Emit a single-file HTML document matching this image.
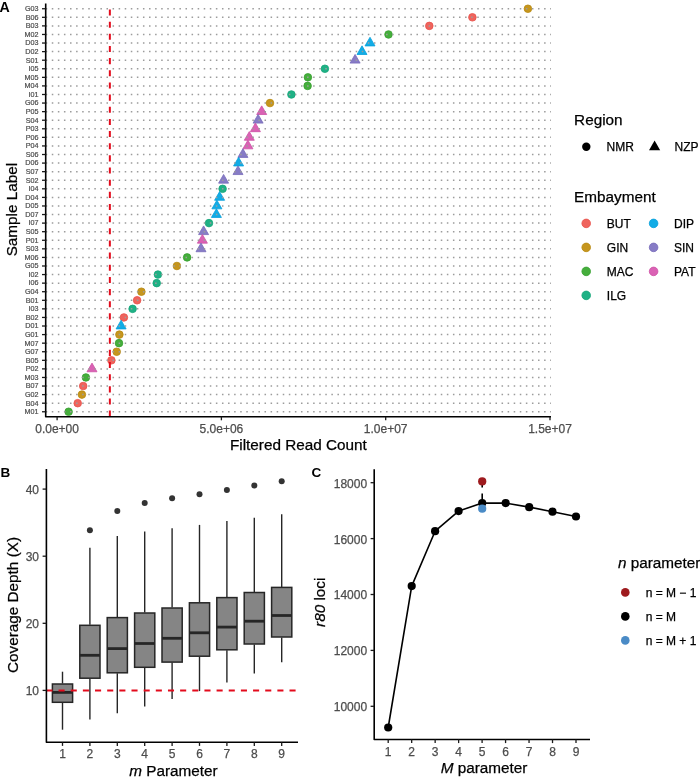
<!DOCTYPE html>
<html><head><meta charset="utf-8"><title>Figure</title>
<style>
html,body{margin:0;padding:0;background:#fff;}
body{width:700px;height:781px;overflow:hidden;}
svg{display:block;will-change:transform;font-family:"Liberation Sans",sans-serif;}
.grid{stroke:#9C9C9C;stroke-width:1.5;stroke-dasharray:1.52 4.558;}
.axis{fill:none;stroke:#000;stroke-width:1.6;stroke-linejoin:round;}
.tick{stroke:#1a1a1a;stroke-width:1.3;}
.ylab{font-size:7.2px;fill:#4D4D4D;stroke:#4D4D4D;stroke-width:0.2px;}
.tl{font-size:12px;fill:#4D4D4D;stroke:#4D4D4D;stroke-width:0.25px;}
.title{font-size:15.3px;fill:#000;stroke:#000;stroke-width:0.25px;}
.leg{font-size:12px;fill:#000;stroke:#000;stroke-width:0.25px;}
.tag{font-size:13.5px;font-weight:bold;fill:#000;}
.rdash{stroke:#E30B1C;stroke-width:2;stroke-dasharray:6.078 6.078;}
.pt{fill-opacity:0.92;}
.bx{stroke:#262626;stroke-width:1.4;}
.box{fill:#858585;stroke:#262626;stroke-width:1.5;}
.med{stroke:#262626;stroke-width:2.8;}
.cl{fill:none;stroke:#000;stroke-width:1.6;stroke-linejoin:round;}
.cdash{stroke:#000;stroke-width:1.6;stroke-dasharray:6.1 6.1;}
</style></head>
<body><svg width="700" height="781" viewBox="0 0 700 781">
<rect width="700" height="781" fill="#fff"/>
<text x="-0.6" y="11.8" class="tag" style="font-size:14.2px">A</text>
<circle cx="527.9" cy="8.74" r="3.8" fill="#C6961E" stroke="#B8880E" stroke-width="0.8"/>
<circle cx="472.4" cy="17.31" r="3.8" fill="#EF645D" stroke="#E8504A" stroke-width="0.8"/>
<circle cx="429.3" cy="25.89" r="3.8" fill="#EF645D" stroke="#E8504A" stroke-width="0.8"/>
<circle cx="388.5" cy="34.46" r="3.8" fill="#45AE3C" stroke="#36A02E" stroke-width="0.8"/>
<polygon points="370,37.26 375.01,45.93 364.99,45.93" fill="#12ACE6" stroke="#069FDA" stroke-width="0.8" stroke-linejoin="round"/>
<polygon points="362,45.83 367.01,54.51 356.99,54.51" fill="#12ACE6" stroke="#069FDA" stroke-width="0.8" stroke-linejoin="round"/>
<polygon points="355.1,54.41 360.11,63.08 350.09,63.08" fill="#877CC6" stroke="#776BBA" stroke-width="0.8" stroke-linejoin="round"/>
<circle cx="324.9" cy="68.76" r="3.8" fill="#1FB185" stroke="#14A478" stroke-width="0.8"/>
<circle cx="307.9" cy="77.34" r="3.8" fill="#45AE3C" stroke="#36A02E" stroke-width="0.8"/>
<circle cx="307.6" cy="85.91" r="3.8" fill="#45AE3C" stroke="#36A02E" stroke-width="0.8"/>
<circle cx="291.4" cy="94.49" r="3.8" fill="#1FB185" stroke="#14A478" stroke-width="0.8"/>
<circle cx="270" cy="103.06" r="3.8" fill="#C6961E" stroke="#B8880E" stroke-width="0.8"/>
<polygon points="261.7,105.86 266.71,114.53 256.69,114.53" fill="#DA62B4" stroke="#CE50A6" stroke-width="0.8" stroke-linejoin="round"/>
<polygon points="258.1,114.43 263.11,123.11 253.09,123.11" fill="#877CC6" stroke="#776BBA" stroke-width="0.8" stroke-linejoin="round"/>
<polygon points="255.4,123.01 260.41,131.68 250.39,131.68" fill="#DA62B4" stroke="#CE50A6" stroke-width="0.8" stroke-linejoin="round"/>
<polygon points="249.3,131.58 254.31,140.26 244.29,140.26" fill="#DA62B4" stroke="#CE50A6" stroke-width="0.8" stroke-linejoin="round"/>
<polygon points="247.9,140.16 252.91,148.83 242.89,148.83" fill="#DA62B4" stroke="#CE50A6" stroke-width="0.8" stroke-linejoin="round"/>
<polygon points="242.9,148.73 247.91,157.41 237.89,157.41" fill="#877CC6" stroke="#776BBA" stroke-width="0.8" stroke-linejoin="round"/>
<polygon points="238.6,157.31 243.61,165.98 233.59,165.98" fill="#12ACE6" stroke="#069FDA" stroke-width="0.8" stroke-linejoin="round"/>
<polygon points="238,165.88 243.01,174.56 232.99,174.56" fill="#877CC6" stroke="#776BBA" stroke-width="0.8" stroke-linejoin="round"/>
<polygon points="223.6,174.46 228.61,183.13 218.59,183.13" fill="#877CC6" stroke="#776BBA" stroke-width="0.8" stroke-linejoin="round"/>
<circle cx="222.6" cy="188.81" r="3.8" fill="#1FB185" stroke="#14A478" stroke-width="0.8"/>
<polygon points="219.6,191.61 224.61,200.28 214.59,200.28" fill="#12ACE6" stroke="#069FDA" stroke-width="0.8" stroke-linejoin="round"/>
<polygon points="216.9,200.18 221.91,208.86 211.89,208.86" fill="#12ACE6" stroke="#069FDA" stroke-width="0.8" stroke-linejoin="round"/>
<polygon points="216.4,208.76 221.41,217.43 211.39,217.43" fill="#12ACE6" stroke="#069FDA" stroke-width="0.8" stroke-linejoin="round"/>
<circle cx="209" cy="223.11" r="3.8" fill="#1FB185" stroke="#14A478" stroke-width="0.8"/>
<polygon points="203.6,225.91 208.61,234.58 198.59,234.58" fill="#877CC6" stroke="#776BBA" stroke-width="0.8" stroke-linejoin="round"/>
<polygon points="202.4,234.48 207.41,243.16 197.39,243.16" fill="#DA62B4" stroke="#CE50A6" stroke-width="0.8" stroke-linejoin="round"/>
<polygon points="201,243.06 206.01,251.73 195.99,251.73" fill="#877CC6" stroke="#776BBA" stroke-width="0.8" stroke-linejoin="round"/>
<circle cx="187.1" cy="257.41" r="3.8" fill="#45AE3C" stroke="#36A02E" stroke-width="0.8"/>
<circle cx="176.9" cy="265.99" r="3.8" fill="#C6961E" stroke="#B8880E" stroke-width="0.8"/>
<circle cx="157.9" cy="274.56" r="3.8" fill="#1FB185" stroke="#14A478" stroke-width="0.8"/>
<circle cx="156.7" cy="283.14" r="3.8" fill="#1FB185" stroke="#14A478" stroke-width="0.8"/>
<circle cx="141.4" cy="291.71" r="3.8" fill="#C6961E" stroke="#B8880E" stroke-width="0.8"/>
<circle cx="137.1" cy="300.29" r="3.8" fill="#EF645D" stroke="#E8504A" stroke-width="0.8"/>
<circle cx="132.6" cy="308.87" r="3.8" fill="#1FB185" stroke="#14A478" stroke-width="0.8"/>
<circle cx="123.9" cy="317.44" r="3.8" fill="#EF645D" stroke="#E8504A" stroke-width="0.8"/>
<polygon points="121.1,320.23 126.11,328.91 116.09,328.91" fill="#12ACE6" stroke="#069FDA" stroke-width="0.8" stroke-linejoin="round"/>
<circle cx="119.4" cy="334.59" r="3.8" fill="#C6961E" stroke="#B8880E" stroke-width="0.8"/>
<circle cx="119" cy="343.16" r="3.8" fill="#45AE3C" stroke="#36A02E" stroke-width="0.8"/>
<circle cx="116.7" cy="351.74" r="3.8" fill="#C6961E" stroke="#B8880E" stroke-width="0.8"/>
<circle cx="111.4" cy="360.31" r="3.8" fill="#EF645D" stroke="#E8504A" stroke-width="0.8"/>
<polygon points="92,363.11 97.01,371.78 86.99,371.78" fill="#DA62B4" stroke="#CE50A6" stroke-width="0.8" stroke-linejoin="round"/>
<circle cx="85.9" cy="377.46" r="3.8" fill="#45AE3C" stroke="#36A02E" stroke-width="0.8"/>
<circle cx="83.2" cy="386.04" r="3.8" fill="#EF645D" stroke="#E8504A" stroke-width="0.8"/>
<circle cx="81.9" cy="394.61" r="3.8" fill="#C6961E" stroke="#B8880E" stroke-width="0.8"/>
<circle cx="77.7" cy="403.19" r="3.8" fill="#EF645D" stroke="#E8504A" stroke-width="0.8"/>
<circle cx="68.6" cy="411.76" r="3.8" fill="#45AE3C" stroke="#36A02E" stroke-width="0.8"/>
<line x1="45.7" y1="8.74" x2="551" y2="8.74" class="grid"/>
<line x1="45.7" y1="17.31" x2="551" y2="17.31" class="grid"/>
<line x1="45.7" y1="25.89" x2="551" y2="25.89" class="grid"/>
<line x1="45.7" y1="34.46" x2="551" y2="34.46" class="grid"/>
<line x1="45.7" y1="43.04" x2="551" y2="43.04" class="grid"/>
<line x1="45.7" y1="51.62" x2="551" y2="51.62" class="grid"/>
<line x1="45.7" y1="60.19" x2="551" y2="60.19" class="grid"/>
<line x1="45.7" y1="68.76" x2="551" y2="68.76" class="grid"/>
<line x1="45.7" y1="77.34" x2="551" y2="77.34" class="grid"/>
<line x1="45.7" y1="85.91" x2="551" y2="85.91" class="grid"/>
<line x1="45.7" y1="94.49" x2="551" y2="94.49" class="grid"/>
<line x1="45.7" y1="103.06" x2="551" y2="103.06" class="grid"/>
<line x1="45.7" y1="111.64" x2="551" y2="111.64" class="grid"/>
<line x1="45.7" y1="120.21" x2="551" y2="120.21" class="grid"/>
<line x1="45.7" y1="128.79" x2="551" y2="128.79" class="grid"/>
<line x1="45.7" y1="137.37" x2="551" y2="137.37" class="grid"/>
<line x1="45.7" y1="145.94" x2="551" y2="145.94" class="grid"/>
<line x1="45.7" y1="154.51" x2="551" y2="154.51" class="grid"/>
<line x1="45.7" y1="163.09" x2="551" y2="163.09" class="grid"/>
<line x1="45.7" y1="171.66" x2="551" y2="171.66" class="grid"/>
<line x1="45.7" y1="180.24" x2="551" y2="180.24" class="grid"/>
<line x1="45.7" y1="188.81" x2="551" y2="188.81" class="grid"/>
<line x1="45.7" y1="197.39" x2="551" y2="197.39" class="grid"/>
<line x1="45.7" y1="205.97" x2="551" y2="205.97" class="grid"/>
<line x1="45.7" y1="214.54" x2="551" y2="214.54" class="grid"/>
<line x1="45.7" y1="223.11" x2="551" y2="223.11" class="grid"/>
<line x1="45.7" y1="231.69" x2="551" y2="231.69" class="grid"/>
<line x1="45.7" y1="240.26" x2="551" y2="240.26" class="grid"/>
<line x1="45.7" y1="248.84" x2="551" y2="248.84" class="grid"/>
<line x1="45.7" y1="257.41" x2="551" y2="257.41" class="grid"/>
<line x1="45.7" y1="265.99" x2="551" y2="265.99" class="grid"/>
<line x1="45.7" y1="274.56" x2="551" y2="274.56" class="grid"/>
<line x1="45.7" y1="283.14" x2="551" y2="283.14" class="grid"/>
<line x1="45.7" y1="291.71" x2="551" y2="291.71" class="grid"/>
<line x1="45.7" y1="300.29" x2="551" y2="300.29" class="grid"/>
<line x1="45.7" y1="308.87" x2="551" y2="308.87" class="grid"/>
<line x1="45.7" y1="317.44" x2="551" y2="317.44" class="grid"/>
<line x1="45.7" y1="326.01" x2="551" y2="326.01" class="grid"/>
<line x1="45.7" y1="334.59" x2="551" y2="334.59" class="grid"/>
<line x1="45.7" y1="343.16" x2="551" y2="343.16" class="grid"/>
<line x1="45.7" y1="351.74" x2="551" y2="351.74" class="grid"/>
<line x1="45.7" y1="360.31" x2="551" y2="360.31" class="grid"/>
<line x1="45.7" y1="368.89" x2="551" y2="368.89" class="grid"/>
<line x1="45.7" y1="377.46" x2="551" y2="377.46" class="grid"/>
<line x1="45.7" y1="386.04" x2="551" y2="386.04" class="grid"/>
<line x1="45.7" y1="394.61" x2="551" y2="394.61" class="grid"/>
<line x1="45.7" y1="403.19" x2="551" y2="403.19" class="grid"/>
<line x1="45.7" y1="411.76" x2="551" y2="411.76" class="grid"/>
<line x1="109.85" y1="416.7" x2="109.85" y2="9" class="rdash"/>
<polyline points="45.7,3.6 45.7,416.7 551,416.7" class="axis"/>
<line x1="42" y1="8.74" x2="45.7" y2="8.74" class="tick"/>
<text x="38.5" y="11.09" class="ylab" text-anchor="end">G03</text>
<line x1="42" y1="17.31" x2="45.7" y2="17.31" class="tick"/>
<text x="38.5" y="19.66" class="ylab" text-anchor="end">B06</text>
<line x1="42" y1="25.89" x2="45.7" y2="25.89" class="tick"/>
<text x="38.5" y="28.24" class="ylab" text-anchor="end">B03</text>
<line x1="42" y1="34.46" x2="45.7" y2="34.46" class="tick"/>
<text x="38.5" y="36.81" class="ylab" text-anchor="end">M02</text>
<line x1="42" y1="43.04" x2="45.7" y2="43.04" class="tick"/>
<text x="38.5" y="45.39" class="ylab" text-anchor="end">D03</text>
<line x1="42" y1="51.62" x2="45.7" y2="51.62" class="tick"/>
<text x="38.5" y="53.97" class="ylab" text-anchor="end">D02</text>
<line x1="42" y1="60.19" x2="45.7" y2="60.19" class="tick"/>
<text x="38.5" y="62.54" class="ylab" text-anchor="end">S01</text>
<line x1="42" y1="68.76" x2="45.7" y2="68.76" class="tick"/>
<text x="38.5" y="71.11" class="ylab" text-anchor="end">I05</text>
<line x1="42" y1="77.34" x2="45.7" y2="77.34" class="tick"/>
<text x="38.5" y="79.69" class="ylab" text-anchor="end">M05</text>
<line x1="42" y1="85.91" x2="45.7" y2="85.91" class="tick"/>
<text x="38.5" y="88.26" class="ylab" text-anchor="end">M04</text>
<line x1="42" y1="94.49" x2="45.7" y2="94.49" class="tick"/>
<text x="38.5" y="96.84" class="ylab" text-anchor="end">I01</text>
<line x1="42" y1="103.06" x2="45.7" y2="103.06" class="tick"/>
<text x="38.5" y="105.41" class="ylab" text-anchor="end">G06</text>
<line x1="42" y1="111.64" x2="45.7" y2="111.64" class="tick"/>
<text x="38.5" y="113.99" class="ylab" text-anchor="end">P05</text>
<line x1="42" y1="120.21" x2="45.7" y2="120.21" class="tick"/>
<text x="38.5" y="122.56" class="ylab" text-anchor="end">S04</text>
<line x1="42" y1="128.79" x2="45.7" y2="128.79" class="tick"/>
<text x="38.5" y="131.14" class="ylab" text-anchor="end">P03</text>
<line x1="42" y1="137.37" x2="45.7" y2="137.37" class="tick"/>
<text x="38.5" y="139.72" class="ylab" text-anchor="end">P06</text>
<line x1="42" y1="145.94" x2="45.7" y2="145.94" class="tick"/>
<text x="38.5" y="148.29" class="ylab" text-anchor="end">P04</text>
<line x1="42" y1="154.51" x2="45.7" y2="154.51" class="tick"/>
<text x="38.5" y="156.86" class="ylab" text-anchor="end">S06</text>
<line x1="42" y1="163.09" x2="45.7" y2="163.09" class="tick"/>
<text x="38.5" y="165.44" class="ylab" text-anchor="end">D06</text>
<line x1="42" y1="171.66" x2="45.7" y2="171.66" class="tick"/>
<text x="38.5" y="174.01" class="ylab" text-anchor="end">S07</text>
<line x1="42" y1="180.24" x2="45.7" y2="180.24" class="tick"/>
<text x="38.5" y="182.59" class="ylab" text-anchor="end">S02</text>
<line x1="42" y1="188.81" x2="45.7" y2="188.81" class="tick"/>
<text x="38.5" y="191.16" class="ylab" text-anchor="end">I04</text>
<line x1="42" y1="197.39" x2="45.7" y2="197.39" class="tick"/>
<text x="38.5" y="199.74" class="ylab" text-anchor="end">D04</text>
<line x1="42" y1="205.97" x2="45.7" y2="205.97" class="tick"/>
<text x="38.5" y="208.31" class="ylab" text-anchor="end">D05</text>
<line x1="42" y1="214.54" x2="45.7" y2="214.54" class="tick"/>
<text x="38.5" y="216.89" class="ylab" text-anchor="end">D07</text>
<line x1="42" y1="223.11" x2="45.7" y2="223.11" class="tick"/>
<text x="38.5" y="225.46" class="ylab" text-anchor="end">I07</text>
<line x1="42" y1="231.69" x2="45.7" y2="231.69" class="tick"/>
<text x="38.5" y="234.04" class="ylab" text-anchor="end">S05</text>
<line x1="42" y1="240.26" x2="45.7" y2="240.26" class="tick"/>
<text x="38.5" y="242.61" class="ylab" text-anchor="end">P01</text>
<line x1="42" y1="248.84" x2="45.7" y2="248.84" class="tick"/>
<text x="38.5" y="251.19" class="ylab" text-anchor="end">S03</text>
<line x1="42" y1="257.41" x2="45.7" y2="257.41" class="tick"/>
<text x="38.5" y="259.76" class="ylab" text-anchor="end">M06</text>
<line x1="42" y1="265.99" x2="45.7" y2="265.99" class="tick"/>
<text x="38.5" y="268.34" class="ylab" text-anchor="end">G05</text>
<line x1="42" y1="274.56" x2="45.7" y2="274.56" class="tick"/>
<text x="38.5" y="276.92" class="ylab" text-anchor="end">I02</text>
<line x1="42" y1="283.14" x2="45.7" y2="283.14" class="tick"/>
<text x="38.5" y="285.49" class="ylab" text-anchor="end">I06</text>
<line x1="42" y1="291.71" x2="45.7" y2="291.71" class="tick"/>
<text x="38.5" y="294.06" class="ylab" text-anchor="end">G04</text>
<line x1="42" y1="300.29" x2="45.7" y2="300.29" class="tick"/>
<text x="38.5" y="302.64" class="ylab" text-anchor="end">B01</text>
<line x1="42" y1="308.87" x2="45.7" y2="308.87" class="tick"/>
<text x="38.5" y="311.22" class="ylab" text-anchor="end">I03</text>
<line x1="42" y1="317.44" x2="45.7" y2="317.44" class="tick"/>
<text x="38.5" y="319.79" class="ylab" text-anchor="end">B02</text>
<line x1="42" y1="326.01" x2="45.7" y2="326.01" class="tick"/>
<text x="38.5" y="328.37" class="ylab" text-anchor="end">D01</text>
<line x1="42" y1="334.59" x2="45.7" y2="334.59" class="tick"/>
<text x="38.5" y="336.94" class="ylab" text-anchor="end">G01</text>
<line x1="42" y1="343.16" x2="45.7" y2="343.16" class="tick"/>
<text x="38.5" y="345.51" class="ylab" text-anchor="end">M07</text>
<line x1="42" y1="351.74" x2="45.7" y2="351.74" class="tick"/>
<text x="38.5" y="354.09" class="ylab" text-anchor="end">G07</text>
<line x1="42" y1="360.31" x2="45.7" y2="360.31" class="tick"/>
<text x="38.5" y="362.67" class="ylab" text-anchor="end">B05</text>
<line x1="42" y1="368.89" x2="45.7" y2="368.89" class="tick"/>
<text x="38.5" y="371.24" class="ylab" text-anchor="end">P02</text>
<line x1="42" y1="377.46" x2="45.7" y2="377.46" class="tick"/>
<text x="38.5" y="379.81" class="ylab" text-anchor="end">M03</text>
<line x1="42" y1="386.04" x2="45.7" y2="386.04" class="tick"/>
<text x="38.5" y="388.39" class="ylab" text-anchor="end">B07</text>
<line x1="42" y1="394.61" x2="45.7" y2="394.61" class="tick"/>
<text x="38.5" y="396.96" class="ylab" text-anchor="end">G02</text>
<line x1="42" y1="403.19" x2="45.7" y2="403.19" class="tick"/>
<text x="38.5" y="405.54" class="ylab" text-anchor="end">B04</text>
<line x1="42" y1="411.76" x2="45.7" y2="411.76" class="tick"/>
<text x="38.5" y="414.12" class="ylab" text-anchor="end">M01</text>
<line x1="57.1" y1="416.7" x2="57.1" y2="420.3" class="tick"/>
<text x="57.1" y="432.6" class="tl" text-anchor="middle">0.0e+00</text>
<line x1="221.4" y1="416.7" x2="221.4" y2="420.3" class="tick"/>
<text x="221.4" y="432.6" class="tl" text-anchor="middle">5.0e+06</text>
<line x1="385.7" y1="416.7" x2="385.7" y2="420.3" class="tick"/>
<text x="385.7" y="432.6" class="tl" text-anchor="middle">1.0e+07</text>
<line x1="550" y1="416.7" x2="550" y2="420.3" class="tick"/>
<text x="550" y="432.6" class="tl" text-anchor="middle">1.5e+07</text>
<text x="298.4" y="450.2" class="title" text-anchor="middle">Filtered Read Count</text>
<text transform="translate(17.4,209.6) rotate(-90)" class="title" text-anchor="middle">Sample Label</text>
<text x="574.1" y="125.1" class="title">Region</text>
<circle cx="586.3" cy="146.7" r="4.2" fill="#000"/>
<polygon points="654.6,140.45 660.19,150.13 649.01,150.13" fill="#000"/>
<text x="606.6" y="150.9" class="leg">NMR</text>
<text x="674.5" y="150.9" class="leg">NZP</text>
<text x="574.1" y="202" class="title">Embayment</text>
<circle cx="586.2" cy="223.4" r="4.3" fill="#EF645D" stroke="#E8504A" stroke-width="0.8"/>
<text x="606.8" y="227.6" class="leg">BUT</text>
<circle cx="586.2" cy="247.4" r="4.3" fill="#C6961E" stroke="#B8880E" stroke-width="0.8"/>
<text x="606.8" y="251.6" class="leg">GIN</text>
<circle cx="586.2" cy="271.4" r="4.3" fill="#45AE3C" stroke="#36A02E" stroke-width="0.8"/>
<text x="606.8" y="275.6" class="leg">MAC</text>
<circle cx="586.2" cy="295.4" r="4.3" fill="#1FB185" stroke="#14A478" stroke-width="0.8"/>
<text x="606.8" y="299.6" class="leg">ILG</text>
<circle cx="653.6" cy="223.4" r="4.3" fill="#12ACE6" stroke="#069FDA" stroke-width="0.8"/>
<text x="674" y="227.6" class="leg">DIP</text>
<circle cx="653.6" cy="247.4" r="4.3" fill="#877CC6" stroke="#776BBA" stroke-width="0.8"/>
<text x="674" y="251.6" class="leg">SIN</text>
<circle cx="653.6" cy="271.4" r="4.3" fill="#DA62B4" stroke="#CE50A6" stroke-width="0.8"/>
<text x="674" y="275.6" class="leg">PAT</text>
<text x="0.6" y="477.3" class="tag">B</text>
<line x1="62.5" y1="671.7" x2="62.5" y2="683.5" class="bx"/>
<line x1="62.5" y1="702.8" x2="62.5" y2="729.7" class="bx"/>
<rect x="52.4" y="684" width="20.2" height="18.3" class="box"/>
<line x1="52.4" y1="692.4" x2="72.6" y2="692.4" class="med"/>
<line x1="89.9" y1="547.7" x2="89.9" y2="624.8" class="bx"/>
<line x1="89.9" y1="678.7" x2="89.9" y2="719.5" class="bx"/>
<rect x="79.8" y="625.3" width="20.2" height="52.9" class="box"/>
<line x1="79.8" y1="655.3" x2="100" y2="655.3" class="med"/>
<circle cx="89.9" cy="530.3" r="3.0" fill="#333333"/>
<line x1="117.3" y1="536.1" x2="117.3" y2="617.1" class="bx"/>
<line x1="117.3" y1="673.3" x2="117.3" y2="713.3" class="bx"/>
<rect x="107.2" y="617.6" width="20.2" height="55.2" class="box"/>
<line x1="107.2" y1="648.6" x2="127.4" y2="648.6" class="med"/>
<circle cx="117.3" cy="511" r="3.0" fill="#333333"/>
<line x1="144.7" y1="531.4" x2="144.7" y2="612.5" class="bx"/>
<line x1="144.7" y1="667.8" x2="144.7" y2="706.5" class="bx"/>
<rect x="134.6" y="613" width="20.2" height="54.3" class="box"/>
<line x1="134.6" y1="643.5" x2="154.8" y2="643.5" class="med"/>
<circle cx="144.7" cy="503.1" r="3.0" fill="#333333"/>
<line x1="172.1" y1="528.3" x2="172.1" y2="607.5" class="bx"/>
<line x1="172.1" y1="662.6" x2="172.1" y2="699.1" class="bx"/>
<rect x="162" y="608" width="20.2" height="54.1" class="box"/>
<line x1="162" y1="638.3" x2="182.2" y2="638.3" class="med"/>
<circle cx="172.1" cy="498.2" r="3.0" fill="#333333"/>
<line x1="199.5" y1="524.9" x2="199.5" y2="602.3" class="bx"/>
<line x1="199.5" y1="656.7" x2="199.5" y2="691.1" class="bx"/>
<rect x="189.4" y="602.8" width="20.2" height="53.4" class="box"/>
<line x1="189.4" y1="632.8" x2="209.6" y2="632.8" class="med"/>
<circle cx="199.5" cy="494.2" r="3.0" fill="#333333"/>
<line x1="226.9" y1="521.1" x2="226.9" y2="597.1" class="bx"/>
<line x1="226.9" y1="650.3" x2="226.9" y2="682.5" class="bx"/>
<rect x="216.8" y="597.6" width="20.2" height="52.2" class="box"/>
<line x1="216.8" y1="627.1" x2="237" y2="627.1" class="med"/>
<circle cx="226.9" cy="489.9" r="3.0" fill="#333333"/>
<line x1="254.3" y1="517.8" x2="254.3" y2="592" class="bx"/>
<line x1="254.3" y1="644.5" x2="254.3" y2="673.5" class="bx"/>
<rect x="244.2" y="592.5" width="20.2" height="51.5" class="box"/>
<line x1="244.2" y1="621.2" x2="264.4" y2="621.2" class="med"/>
<circle cx="254.3" cy="485.6" r="3.0" fill="#333333"/>
<line x1="281.7" y1="514.2" x2="281.7" y2="586.9" class="bx"/>
<line x1="281.7" y1="637.5" x2="281.7" y2="662.3" class="bx"/>
<rect x="271.6" y="587.4" width="20.2" height="49.6" class="box"/>
<line x1="271.6" y1="615.5" x2="291.8" y2="615.5" class="med"/>
<circle cx="281.7" cy="481.3" r="3.0" fill="#333333"/>
<line x1="46.4" y1="690.4" x2="298" y2="690.4" class="rdash"/>
<polyline points="46.4,469.1 46.4,742.3 298,742.3" class="axis"/>
<line x1="42.6" y1="690.4" x2="46.4" y2="690.4" class="tick"/>
<text x="39" y="695.4" class="tl" text-anchor="end">10</text>
<line x1="42.6" y1="623.3" x2="46.4" y2="623.3" class="tick"/>
<text x="39" y="628.3" class="tl" text-anchor="end">20</text>
<line x1="42.6" y1="556.2" x2="46.4" y2="556.2" class="tick"/>
<text x="39" y="561.2" class="tl" text-anchor="end">30</text>
<line x1="42.6" y1="489.1" x2="46.4" y2="489.1" class="tick"/>
<text x="39" y="494.1" class="tl" text-anchor="end">40</text>
<line x1="62.5" y1="742.3" x2="62.5" y2="745.9" class="tick"/>
<text x="62.5" y="758.4" class="tl" text-anchor="middle">1</text>
<line x1="89.9" y1="742.3" x2="89.9" y2="745.9" class="tick"/>
<text x="89.9" y="758.4" class="tl" text-anchor="middle">2</text>
<line x1="117.3" y1="742.3" x2="117.3" y2="745.9" class="tick"/>
<text x="117.3" y="758.4" class="tl" text-anchor="middle">3</text>
<line x1="144.7" y1="742.3" x2="144.7" y2="745.9" class="tick"/>
<text x="144.7" y="758.4" class="tl" text-anchor="middle">4</text>
<line x1="172.1" y1="742.3" x2="172.1" y2="745.9" class="tick"/>
<text x="172.1" y="758.4" class="tl" text-anchor="middle">5</text>
<line x1="199.5" y1="742.3" x2="199.5" y2="745.9" class="tick"/>
<text x="199.5" y="758.4" class="tl" text-anchor="middle">6</text>
<line x1="226.9" y1="742.3" x2="226.9" y2="745.9" class="tick"/>
<text x="226.9" y="758.4" class="tl" text-anchor="middle">7</text>
<line x1="254.3" y1="742.3" x2="254.3" y2="745.9" class="tick"/>
<text x="254.3" y="758.4" class="tl" text-anchor="middle">8</text>
<line x1="281.7" y1="742.3" x2="281.7" y2="745.9" class="tick"/>
<text x="281.7" y="758.4" class="tl" text-anchor="middle">9</text>
<text x="173.5" y="775.6" class="title" text-anchor="middle"><tspan font-style="italic">m</tspan> Parameter</text>
<text transform="translate(17.6,605.0) rotate(-90)" class="title" text-anchor="middle">Coverage Depth (X)</text>
<text x="311.6" y="477.4" class="tag">C</text>
<polyline points="388.2,727.5 411.7,586.1 435.1,531.2 458.6,511.1 482.2,503 505.7,503.1 529.2,507.1 552.5,511.7 576,516.5" class="cl"/>
<line x1="482.2" y1="481.4" x2="482.2" y2="503.0" class="cdash"/>
<circle cx="482.2" cy="481.4" r="4.1" fill="#9E1A1E"/>
<circle cx="388.2" cy="727.5" r="4.1" fill="#000"/>
<circle cx="411.7" cy="586.1" r="4.1" fill="#000"/>
<circle cx="435.1" cy="531.2" r="4.1" fill="#000"/>
<circle cx="458.6" cy="511.1" r="4.1" fill="#000"/>
<circle cx="482.2" cy="503" r="4.1" fill="#000"/>
<circle cx="505.7" cy="503.1" r="4.1" fill="#000"/>
<circle cx="529.2" cy="507.1" r="4.1" fill="#000"/>
<circle cx="552.5" cy="511.7" r="4.1" fill="#000"/>
<circle cx="576" cy="516.5" r="4.1" fill="#000"/>
<circle cx="482.2" cy="508.7" r="4.1" fill="#4A8BC6"/>
<polyline points="374.2,469.3 374.2,739.5 590,739.5" class="axis"/>
<line x1="370.6" y1="706.3" x2="374.2" y2="706.3" class="tick"/>
<text x="367.1" y="711.2" class="tl" text-anchor="end">10000</text>
<line x1="370.6" y1="650.4" x2="374.2" y2="650.4" class="tick"/>
<text x="367.1" y="655.3" class="tl" text-anchor="end">12000</text>
<line x1="370.6" y1="594.5" x2="374.2" y2="594.5" class="tick"/>
<text x="367.1" y="599.4" class="tl" text-anchor="end">14000</text>
<line x1="370.6" y1="538.6" x2="374.2" y2="538.6" class="tick"/>
<text x="367.1" y="543.5" class="tl" text-anchor="end">16000</text>
<line x1="370.6" y1="482.7" x2="374.2" y2="482.7" class="tick"/>
<text x="367.1" y="487.6" class="tl" text-anchor="end">18000</text>
<line x1="388.2" y1="739.5" x2="388.2" y2="743.1" class="tick"/>
<text x="388.2" y="755.8" class="tl" text-anchor="middle">1</text>
<line x1="411.68" y1="739.5" x2="411.68" y2="743.1" class="tick"/>
<text x="411.68" y="755.8" class="tl" text-anchor="middle">2</text>
<line x1="435.15" y1="739.5" x2="435.15" y2="743.1" class="tick"/>
<text x="435.15" y="755.8" class="tl" text-anchor="middle">3</text>
<line x1="458.62" y1="739.5" x2="458.62" y2="743.1" class="tick"/>
<text x="458.62" y="755.8" class="tl" text-anchor="middle">4</text>
<line x1="482.1" y1="739.5" x2="482.1" y2="743.1" class="tick"/>
<text x="482.1" y="755.8" class="tl" text-anchor="middle">5</text>
<line x1="505.57" y1="739.5" x2="505.57" y2="743.1" class="tick"/>
<text x="505.57" y="755.8" class="tl" text-anchor="middle">6</text>
<line x1="529.05" y1="739.5" x2="529.05" y2="743.1" class="tick"/>
<text x="529.05" y="755.8" class="tl" text-anchor="middle">7</text>
<line x1="552.52" y1="739.5" x2="552.52" y2="743.1" class="tick"/>
<text x="552.52" y="755.8" class="tl" text-anchor="middle">8</text>
<line x1="576" y1="739.5" x2="576" y2="743.1" class="tick"/>
<text x="576" y="755.8" class="tl" text-anchor="middle">9</text>
<text x="484" y="772.5" class="title" text-anchor="middle"><tspan font-style="italic">M</tspan> parameter</text>
<text transform="translate(324.6,602.3) rotate(-90)" class="title" text-anchor="middle"><tspan font-style="italic">r80</tspan> loci</text>
<text x="617.9" y="567.9" class="title"><tspan font-style="italic">n</tspan> parameter</text>
<circle cx="625.3" cy="592.4" r="4.3" fill="#9E1A1E"/>
<text x="645.7" y="596.8" class="leg">n = M − 1</text>
<circle cx="625.3" cy="616.4" r="4.3" fill="#000"/>
<text x="645.7" y="620.8" class="leg">n = M</text>
<circle cx="625.3" cy="640.4" r="4.3" fill="#4A8BC6"/>
<text x="645.7" y="644.8" class="leg">n = M + 1</text>
</svg></body></html>
